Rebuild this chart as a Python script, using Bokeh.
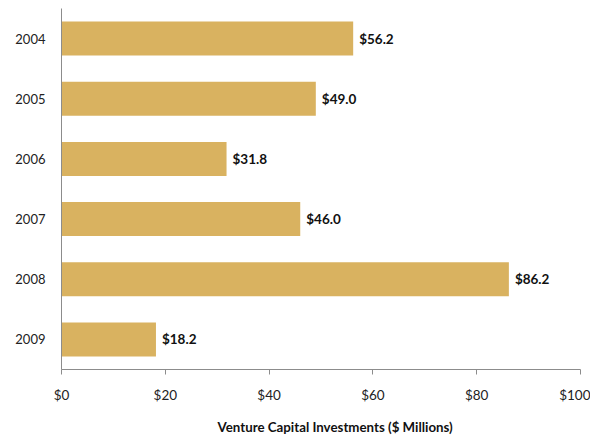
from bokeh.plotting import figure
from bokeh.models import FactorRange, Range1d, ColumnDataSource, Title, FixedTicker
from bokeh.core.properties import value
from bokeh.embed import file_html
from bokeh.resources import INLINE

years = ["2004", "2005", "2006", "2007", "2008", "2009"]
investments = [56.2, 49.0, 31.8, 46.0, 86.2, 18.2]
labels = ["$56.2", "$49.0", "$31.8", "$46.0", "$86.2", "$18.2"]
x_ticks = [0, 20, 40, 60, 80, 100]
x_tick_labels = ["$0", "$20", "$40", "$60", "$80", "$100"]
x_title = "Venture Capital  Investments ($ Millions)"

FONT = "Lato"
BAR = "#D9B260"
AXIS = "#8C8C8C"

src = ColumnDataSource(dict(year=years, val=investments, lab=labels))

p = figure(
    frame_width=519, frame_height=361,
    min_border_left=61, min_border_right=10, min_border_top=8, min_border_bottom=20,
    y_range=FactorRange(factors=list(reversed(years)), range_padding=0),
    x_range=Range1d(0, 100),
    output_backend="svg", toolbar_location=None,
)
p.hbar(y="year", right="val", left=0, height=0.565, source=src,
       fill_color=BAR, line_color=None)
p.text(x="val", y="year", text="lab", source=src, x_offset=6,
       text_baseline="middle", text_align="left",
       text_font=value(FONT), text_font_style="bold", text_font_size="13.5px",
       text_color="#111111")

p.xgrid.visible = False
p.ygrid.visible = False
p.outline_line_color = None

xa = p.xaxis[0]
xa.ticker = FixedTicker(ticks=x_ticks)
xa.major_label_overrides = {t: l for t, l in zip(x_ticks, x_tick_labels)}
xa.axis_line_color = AXIS
xa.major_tick_line_color = AXIS
xa.major_tick_out = 5
xa.major_tick_in = 0
xa.minor_tick_line_color = None
xa.major_label_standoff = 12
xa.major_label_text_font = FONT
xa.major_label_text_font_size = "13.5px"
xa.major_label_text_color = "#222222"

ya = p.yaxis[0]
ya.axis_line_color = AXIS
ya.major_tick_line_color = None
ya.minor_tick_line_color = None
ya.major_label_standoff = 10
ya.major_label_text_font = FONT
ya.major_label_text_font_size = "13px"
ya.major_label_text_color = "#222222"

t = Title(text=x_title, align="left", offset=156, standoff=22, text_font=FONT,
          text_font_size="13.3px", text_font_style="bold", text_color="#111111")
p.add_layout(t, "below")

open("out.html", "w").write(file_html(p, INLINE))
